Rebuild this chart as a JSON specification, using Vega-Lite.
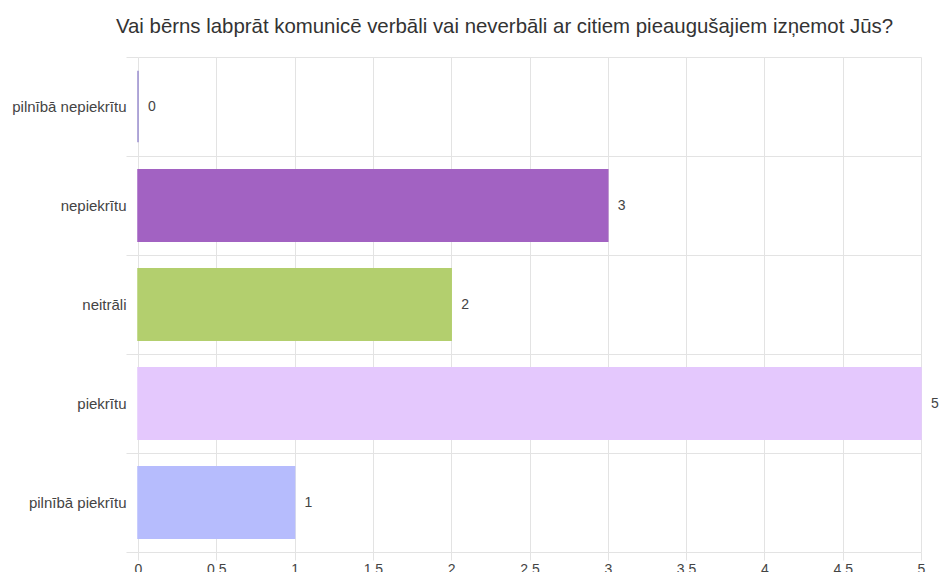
{
  "$schema": "https://vega.github.io/schema/vega-lite/v6.json",
  "width": 783,
  "height": 495,
  "autosize": {"type": "none"},
  "padding": {"left": 138, "top": 57, "right": 18, "bottom": 20},
  "background": "white",
  "config": {"view": {"stroke": null}, "font": "Liberation Sans"},
  "title": {
    "text": "Vai bērns labprāt komunicē verbāli vai neverbāli ar citiem pieaugušajiem izņemot Jūs?",
    "fontSize": 20.4,
    "fontWeight": "normal",
    "font": "Liberation Sans",
    "color": "#333333",
    "anchor": "middle",
    "dx": -25,
    "offset": 13
  },
  "data": {
    "values": [
      {"atbilde": "pilnībā nepiekrītu", "skaits": 0},
      {"atbilde": "nepiekrītu", "skaits": 3},
      {"atbilde": "neitrāli", "skaits": 2},
      {"atbilde": "piekrītu", "skaits": 5},
      {"atbilde": "pilnībā piekrītu", "skaits": 1}
    ]
  },
  "encoding": {
    "y": {
      "field": "atbilde",
      "type": "nominal",
      "sort": null,
      "title": null,
      "scale": {"paddingInner": 0, "paddingOuter": 0},
      "axis": {
        "domain": false,
        "grid": true,
        "gridColor": "#e3e3e3",
        "tickBand": "extent",
        "ticks": true,
        "tickSize": 12,
        "tickColor": "#e3e3e3",
        "labelPadding": 0,
        "labelFontSize": 15,
        "labelColor": "#444444",
        "labelFont": "Liberation Sans"
      }
    },
    "x": {
      "field": "skaits",
      "type": "quantitative",
      "title": null,
      "scale": {"domain": [0, 5], "nice": false},
      "axis": {
        "values": [0, 0.5, 1, 1.5, 2, 2.5, 3, 3.5, 4, 4.5, 5],
        "format": "~g",
        "labelFlush": false,
        "domain": false,
        "grid": true,
        "gridColor": "#e3e3e3",
        "tickColor": "#e3e3e3",
        "tickSize": 8,
        "labelPadding": 2,
        "labelFontSize": 14,
        "labelColor": "#444444",
        "labelFont": "Liberation Sans"
      }
    }
  },
  "layer": [
    {
      "mark": {"type": "bar", "height": {"band": 0.72}, "strokeWidth": 1.5},
      "encoding": {
        "color": {
          "field": "atbilde",
          "type": "nominal",
          "legend": null,
          "scale": {
            "domain": ["pilnībā nepiekrītu", "nepiekrītu", "neitrāli", "piekrītu", "pilnībā piekrītu"],
            "range": ["#9a8fd0", "#a262c2", "#b3cf6e", "#e4c8fd", "#b6bcfd"]
          }
        },
        "stroke": {
          "field": "atbilde",
          "type": "nominal",
          "legend": null,
          "scale": {
            "domain": ["pilnībā nepiekrītu", "nepiekrītu", "neitrāli", "piekrītu", "pilnībā piekrītu"],
            "range": ["#9a8fd0", "#a262c2", "#b3cf6e", "#e4c8fd", "#b6bcfd"]
          }
        }
      }
    },
    {
      "mark": {"type": "text", "align": "left", "baseline": "middle", "dx": 10, "fontSize": 14, "color": "#444444", "font": "Liberation Sans"},
      "encoding": {"text": {"field": "skaits", "type": "quantitative"}}
    }
  ]
}
